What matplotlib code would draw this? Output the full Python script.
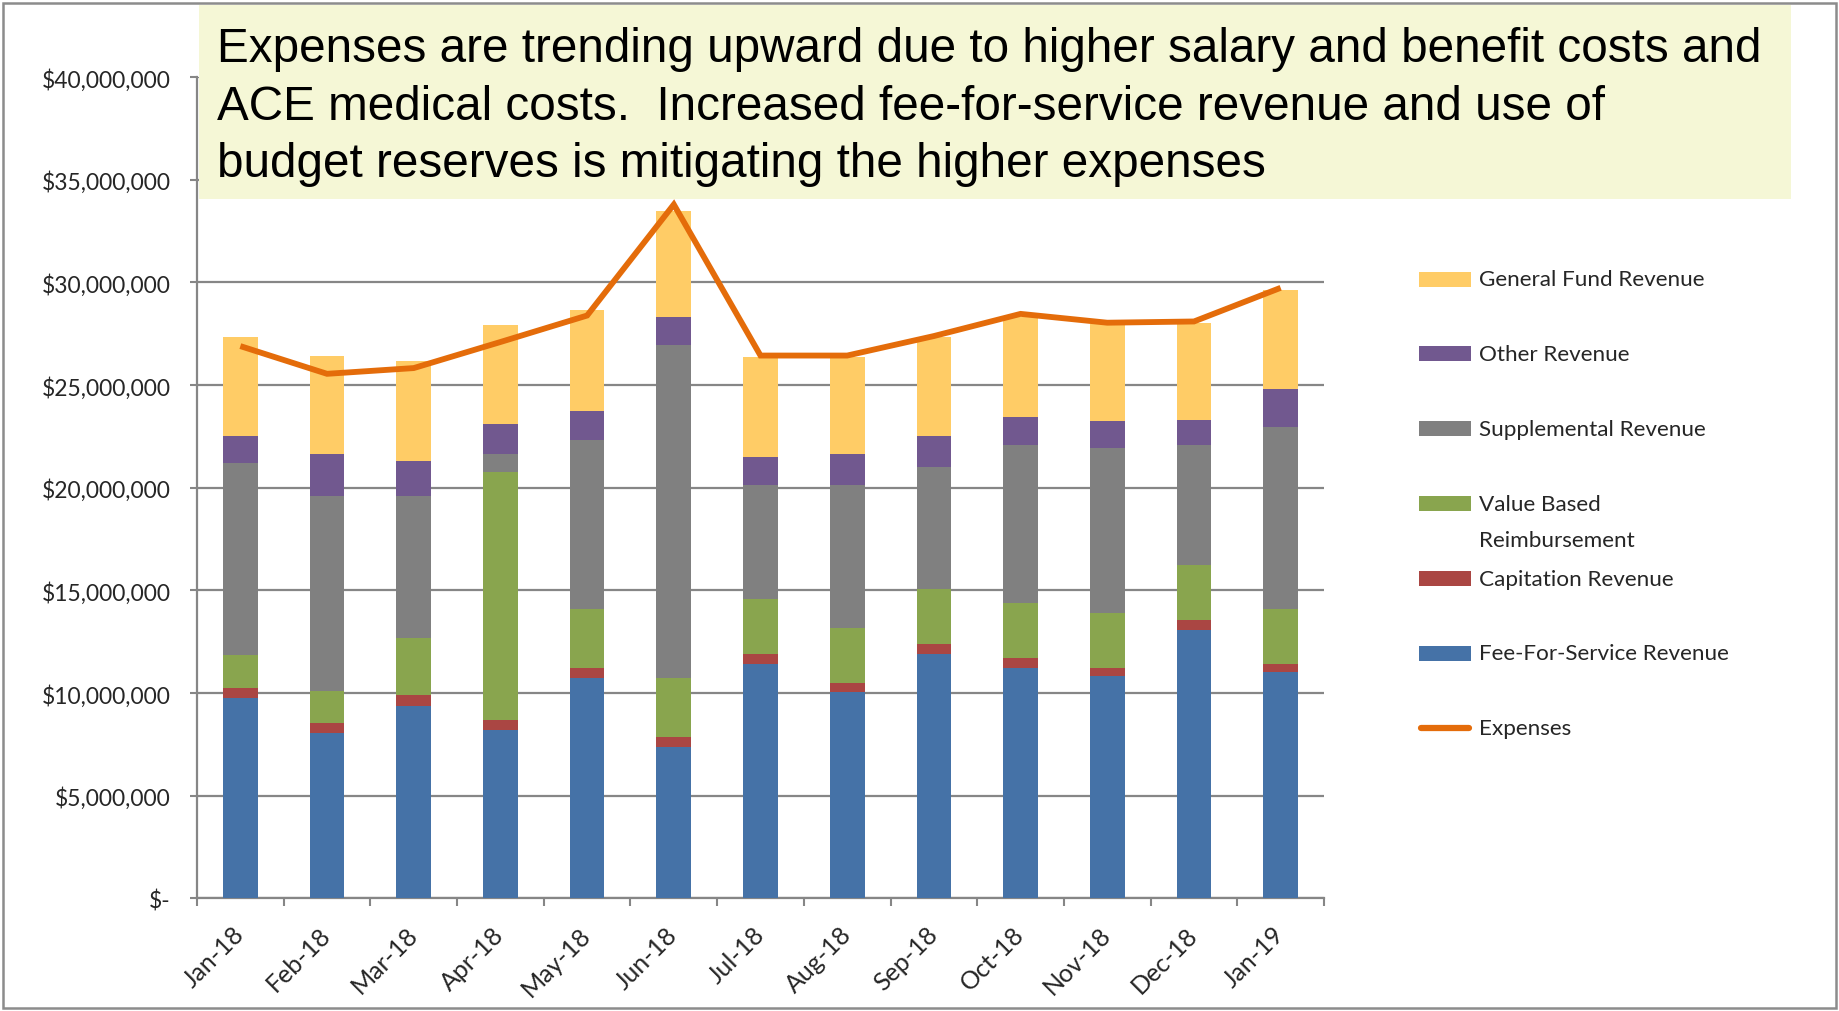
import numpy as np
import matplotlib.pyplot as plt
from matplotlib.patches import Rectangle
from matplotlib.lines import Line2D
from matplotlib.ticker import FuncFormatter

# Monthly revenue by source and total expenses (dollars)
months = ['Jan-18', 'Feb-18', 'Mar-18', 'Apr-18', 'May-18', 'Jun-18', 'Jul-18',
          'Aug-18', 'Sep-18', 'Oct-18', 'Nov-18', 'Dec-18', 'Jan-19']
fee_for_service = [9.78, 8.07, 9.36, 8.20, 10.74, 7.39, 11.42, 10.07, 11.91, 11.22, 10.82, 13.07, 11.01]
capitation = [0.48, 0.49, 0.56, 0.49, 0.48, 0.49, 0.49, 0.41, 0.47, 0.49, 0.40, 0.49, 0.41]
value_based = [1.58, 1.56, 2.75, 12.07, 2.88, 2.86, 2.68, 2.68, 2.69, 2.68, 2.68, 2.68, 2.68]
supplemental = [9.39, 9.47, 6.92, 0.89, 8.23, 16.19, 5.55, 6.98, 5.96, 7.67, 8.03, 5.82, 8.85]
other_revenue = [1.31, 2.06, 1.72, 1.46, 1.43, 1.38, 1.38, 1.51, 1.51, 1.38, 1.30, 1.25, 1.87]
general_fund = [4.80, 4.79, 4.86, 4.84, 4.88, 5.17, 4.87, 4.70, 4.80, 4.87, 4.76, 4.73, 4.79]
expenses = [26.90, 25.55, 25.83, 27.10, 28.39, 33.80, 26.44, 26.44, 27.39, 28.47, 28.04, 28.10, 29.74]

series_labels = ['Fee-For-Service Revenue', 'Capitation Revenue', 'Value Based\nReimbursement',
                 'Supplemental Revenue', 'Other Revenue', 'General Fund Revenue']
series_colors = ['#4572A7', '#AA4643', '#89A54E', '#808080', '#71588F', '#FFCC66']
line_color = '#E46C0A'
grid_gray = '#868686'
text_col = '#262626'

note_lines = ['Expenses are trending upward due to higher salary and benefit costs and',
              'ACE medical costs.  Increased fee-for-service revenue and use of',
              'budget reserves is mitigating the higher expenses']

W, H = 1839, 1012
plt.rcParams['font.family'] = ['Lato', 'DejaVu Sans']


def fx(px):
    return px / W


def fy(py):
    return 1 - py / H


fig = plt.figure(figsize=(W / 100, H / 100), dpi=100)
ax = fig.add_axes([fx(197), fy(899.3), fx(1324) - fx(197), fy(78.2) - fy(899.3)])

x = np.arange(len(months))
stack = [fee_for_service, capitation, value_based, supplemental, other_revenue, general_fund]
bottom = np.zeros(len(months))
for vals, col in zip(stack, series_colors):
    vals = np.array(vals) * 1e6
    ax.bar(x, vals, 0.4, bottom=bottom, color=col, edgecolor='none', zorder=3)
    bottom += vals
ax.plot(x, np.array(expenses) * 1e6, color=line_color, lw=4.2, zorder=4,
        solid_joinstyle='miter', solid_capstyle='butt')

ax.set_xlim(-0.5, len(months) - 0.5)
ax.set_ylim(0, 40e6)
ax.set_yticks(np.arange(0, 40e6 + 1, 5e6))
ax.yaxis.set_major_formatter(FuncFormatter(lambda v, p: '$-' if v == 0 else '${:,.0f}'.format(v)))
ax.yaxis.grid(True, color=grid_gray, lw=1.6)
ax.set_axisbelow(True)
for s in ['top', 'right']:
    ax.spines[s].set_visible(False)
for s in ['left', 'bottom']:
    ax.spines[s].set_color(grid_gray)
    ax.spines[s].set_linewidth(1.6)

ax.tick_params(axis='y', length=5, width=1.5, color=grid_gray, labelsize=16.5,
               labelcolor=text_col, pad=14)
ax.set_xticks(x)
ax.set_xticklabels(months, rotation=45, ha='right', va='center', rotation_mode='anchor')
ax.set_xticks(np.arange(-0.5, len(months), 1), minor=True)
ax.tick_params(axis='x', which='major', length=0, pad=23, labelsize=18, labelcolor=text_col)
ax.tick_params(axis='x', which='minor', length=6, width=1.5, color=grid_gray)

# legend drawn by hand, top to bottom
leg_y0, leg_step = 280, 74.9
order = list(range(len(series_labels)))[::-1]
for i, k in enumerate(order):
    yc = leg_y0 + i * leg_step
    fig.patches.append(Rectangle((fx(1419), fy(yc + 7.5)), fx(52), 15 / H,
                                 transform=fig.transFigure, facecolor=series_colors[k],
                                 edgecolor='none'))
    for j, part in enumerate(series_labels[k].split('\n')):
        fig.text(fx(1479), fy(yc + j * 36), part, va='center', ha='left',
                 fontsize=16.2, color=text_col)
yc = leg_y0 + len(order) * leg_step
fig.lines.append(Line2D([fx(1421), fx(1469)], [fy(yc), fy(yc)], transform=fig.transFigure,
                        color=line_color, lw=4.5, solid_capstyle='round'))
fig.text(fx(1479), fy(yc), 'Expenses', va='center', ha='left', fontsize=16.2, color=text_col)

# annotation box over the top of the plot
fig.patches.append(Rectangle((fx(199), fy(200)), fx(1791) - fx(199), 194 / H,
                             transform=fig.transFigure, facecolor='#F5F7D6',
                             edgecolor='none', zorder=5))
for i, line in enumerate(note_lines):
    fig.text(fx(217), fy(62 + i * 57.5), line, va='baseline', ha='left', fontsize=34.3,
             family=['Liberation Sans', 'DejaVu Sans'], color='black', zorder=6)

# slide frame
fig.patches.append(Rectangle((fx(3), fy(1009)), fx(1833), 1005 / H, transform=fig.transFigure,
                             facecolor='none', edgecolor='#8C8C8C', lw=1.8, zorder=7))

fig.savefig('out.png', dpi=100)
